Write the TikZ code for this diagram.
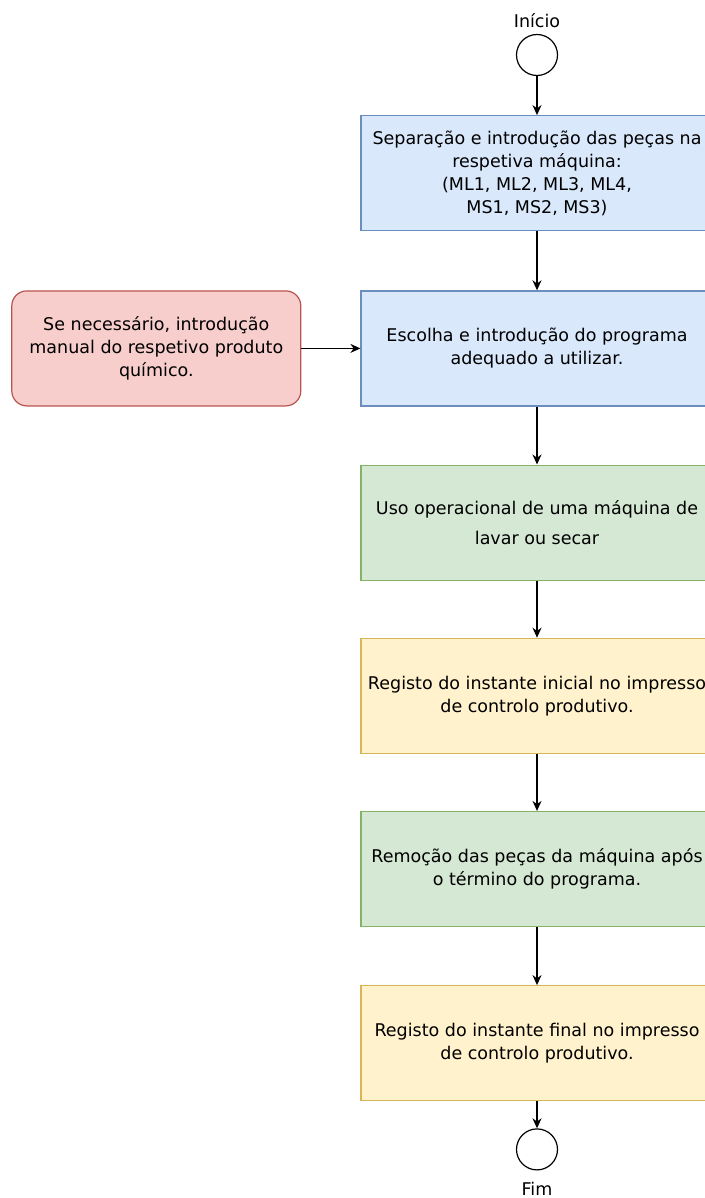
\documentclass[tikz,border=0pt]{standalone}
\usepackage{fontspec}
\setmainfont{DejaVu Sans}
\usetikzlibrary{positioning, arrows.meta}

\definecolor{azulFundo}{HTML}{DAE8FC}
\definecolor{azulLinha}{HTML}{6C8EBF}
\definecolor{verdeFundo}{HTML}{D5E8D4}
\definecolor{verdeLinha}{HTML}{82B366}
\definecolor{amareloFundo}{HTML}{FFF2CC}
\definecolor{amareloLinha}{HTML}{D6B656}
\definecolor{vermelhoFundo}{HTML}{F8CECC}
\definecolor{vermelhoLinha}{HTML}{B85450}

\begin{document}
\begin{tikzpicture}[every node/.style = { align = center, font = \fontsize{17.5}{23}\selectfont },
    etapa/.style = { draw, line width = 1.2pt, minimum width = 352pt, minimum height = 115pt },
    azul/.style = { etapa, fill = azulFundo, draw = azulLinha },
    verde/.style = { etapa, fill = verdeFundo, draw = verdeLinha },
    amarelo/.style = { etapa, fill = amareloFundo, draw = amareloLinha },
    terminal/.style = { draw, circle, line width = 1.2pt, minimum size = 41pt, inner sep = 0pt },
    seta/.style = { -{Stealth[length = 10pt, width = 9pt]}, line width = 1.3pt }]
  \useasboundingbox (0,0) rectangle (704pt,-1198pt);

  \node [terminal, label = {[label distance = 3pt]above:Início}] (inicio) at (537pt,-55pt) {};
  \node [azul, below = 39pt of inicio] (separacao)
    { Separação e introdução das peças na \\ respetiva máquina: \\ (ML1, ML2, ML3, ML4, \\ MS1, MS2, MS3) };
  \node [azul, below = 59pt of separacao] (programa)
    { Escolha e introdução do programa \\ adequado a utilizar. };
  \node [draw = vermelhoLinha, fill = vermelhoFundo, line width = 1.2pt, rounded corners = 15pt,
         minimum width = 289pt, minimum height = 115pt, left = 59pt of programa] (quimico)
    { Se necessário, introdução \\ manual do respetivo produto \\ químico. };
  \node [verde, below = 58pt of programa, font = \fontsize{17.5}{30}\selectfont] (uso)
    { Uso operacional de uma máquina de \\ lavar ou secar };
  \node [amarelo, below = 57pt of uso] (inicial)
    { Registo do instante inicial no impresso \\ de controlo produtivo. };
  \node [verde, below = 57pt of inicial] (remocao)
    { Remoção das peças da máquina após \\ o término do programa. };
  \node [amarelo, below = 58pt of remocao] (final)
    { Registo do instante final no impresso \\ de controlo produtivo. };
  \node [terminal, below = 27pt of final, label = {[label distance = 8pt]below:Fim}] (fim) {};

  % ligacoes
  \draw [seta] (inicio) -- (separacao);
  \draw [seta] (separacao) -- (programa);
  \draw [seta] (quimico) -- (programa);
  \draw [seta] (programa) -- (uso);
  \draw [seta] (uso) -- (inicial);
  \draw [seta] (inicial) -- (remocao);
  \draw [seta] (remocao) -- (final);
  \draw [seta] (final) -- (fim);
\end{tikzpicture}
\end{document}
